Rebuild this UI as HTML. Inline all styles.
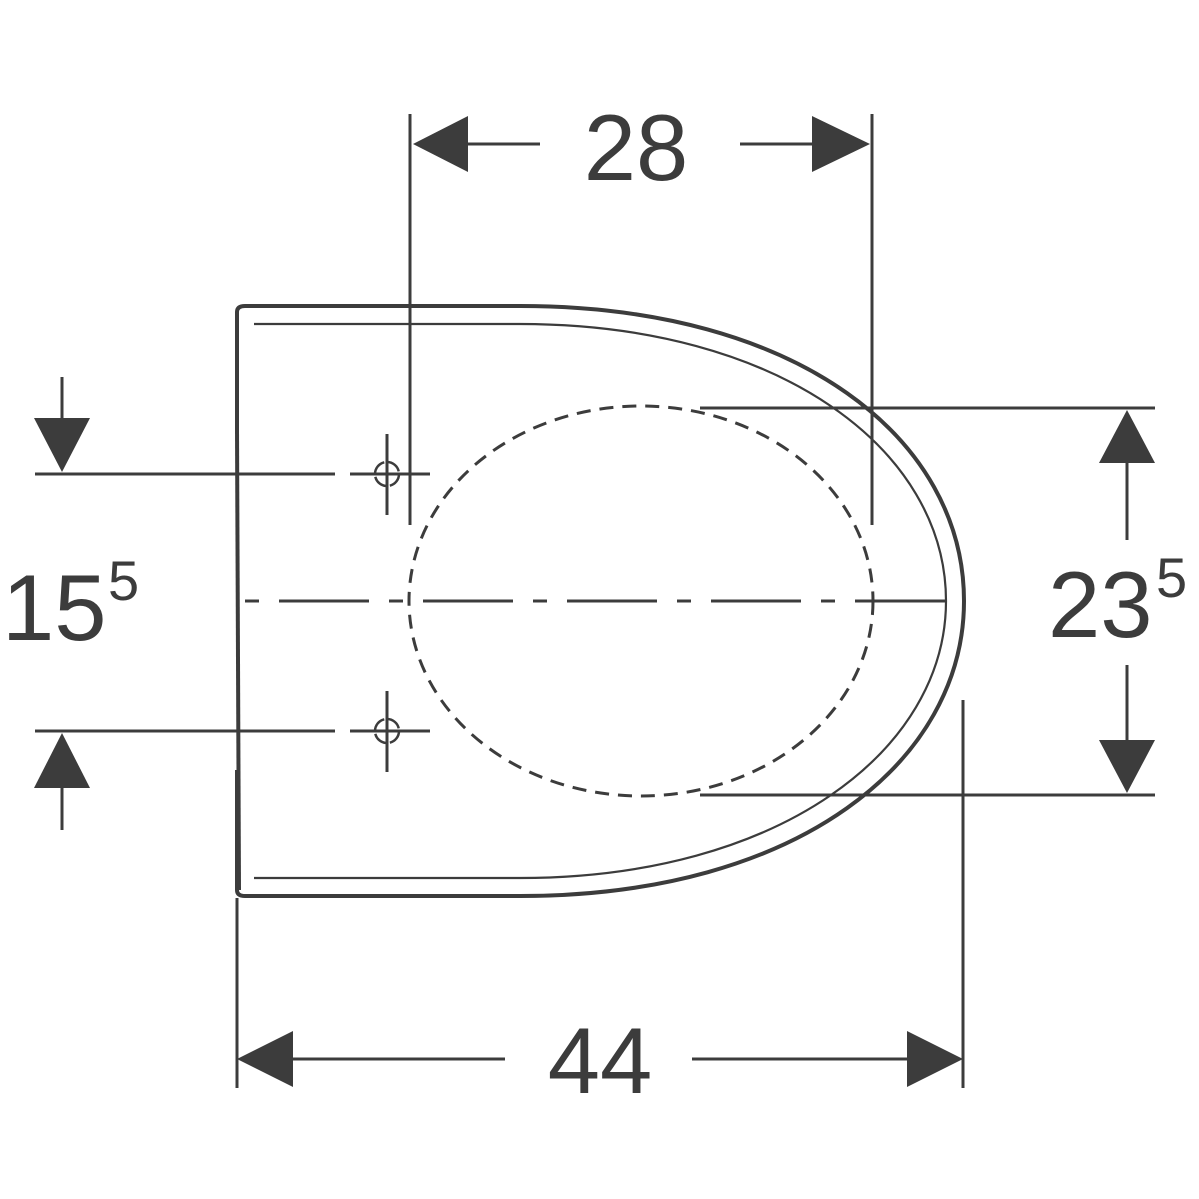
<!DOCTYPE html><html><head><style>body{margin:0;background:#fff}svg{display:block}</style></head><body>
<svg width="1199" height="1199" viewBox="0 0 1199 1199" xmlns="http://www.w3.org/2000/svg">
<g fill="none" stroke="#3c3c3c" stroke-width="3">
<path d="M237,430 L237,312 Q237,306 245,306 L520,306 C800,306 964,440 964,601 C964,760 800,896 520,896 L245,896 Q237,896 237,890 L237,770" stroke-width="4"/>
<path d="M237,430 L239,890" stroke-width="4"/>
<path d="M254,324 L520,324 C780,324 946,450 946,601 C946,750 780,878 520,878 L254,878" stroke-width="2.2"/>
<ellipse cx="641" cy="601" rx="232" ry="195" stroke-dasharray="14,9"/>
<path d="M245,601 H945" stroke-dasharray="14,20,90,20"/>
<path d="M410,114 V525 M872,114 V525"/>
<path d="M468,144 H540 M740,144 H812"/>
<path d="M700,408 H1155 M700,795 H1155"/>
<path d="M1127,463 V540 M1127,665 V740"/>
<path d="M237,898 V1088 M963,700 V1088"/>
<path d="M293,1059 H505 M692,1059 H907"/>
<path d="M35,474 H335 M350,474 H430 M35,731 H335 M350,731 H430"/>
<path d="M62,377 V418 M62,788 V830"/>
<path d="M387,434 V515 M387,691 V772"/>
<circle cx="387" cy="474" r="12" stroke-width="2.5" stroke-dasharray="15.8,3"/>
<circle cx="387" cy="731" r="12" stroke-width="2.5" stroke-dasharray="15.8,3"/>
</g>
<g fill="#3c3c3c">
<polygon points="413,144 468,116 468,172"/>
<polygon points="870,144 812,116 812,172"/>
<polygon points="237,1059 293,1031 293,1087"/>
<polygon points="963,1059 907,1031 907,1087"/>
<polygon points="1127,410 1099,463 1155,463"/>
<polygon points="1127,793 1099,740 1155,740"/>
<polygon points="62,472 34,418 90,418"/>
<polygon points="62,733 34,788 90,788"/>
</g>
<g fill="#3c3c3c" font-family="Liberation Sans, sans-serif">
<text x="636" y="180" font-size="94" text-anchor="middle">28</text>
<text x="600" y="1093" font-size="94" text-anchor="middle">44</text>
<text x="1048" y="637" font-size="94">23</text>
<text x="1156" y="597" font-size="56">5</text>
<text x="2" y="640" font-size="94">15</text>
<text x="108" y="600" font-size="56">5</text>
</g>
</svg></body></html>
